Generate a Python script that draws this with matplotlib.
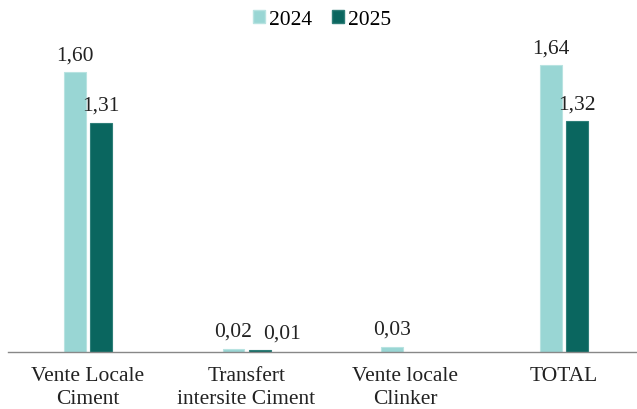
import matplotlib
matplotlib.use("Agg")
import matplotlib.pyplot as plt
import numpy as np
from matplotlib.patches import Patch

categories = ["Vente Locale\nCiment", "Transfert\nintersite Ciment", "Vente locale\nClinker", "TOTAL"]
series_names = ["2024", "2025"]
values_2024 = [1.60, 0.02, 0.03, 1.64]
values_2025 = [1.31, 0.01, None, 1.32]
labels_2024 = ["1,60", "0,02", "0,03", "1,64"]
labels_2025 = ["1,31", "0,01", None, "1,32"]

plt.rcParams['font.family'] = ['Liberation Serif', 'DejaVu Serif']

fig = plt.figure(figsize=(6.37, 4.09), dpi=100)
ax = fig.add_axes([8/637, 57/409, 629/637, 315/409])

c1 = "#99D6D4"
c2 = "#0A665F"
x = np.arange(len(categories))
w = 0.138
off = 0.082
fs = 15.5

for i in range(len(categories)):
    v = values_2024[i]
    if v is not None:
        ax.bar(x[i] - off, v, w, color=c1, edgecolor="#B8E3E1", linewidth=0.8)
        ax.annotate(labels_2024[i], (x[i] - off, v), xytext=(0, 5), textcoords="offset points",
                    ha="center", va="bottom", fontsize=fs, color="#222222")
    v = values_2025[i]
    if v is not None:
        ax.bar(x[i] + off, v, w, color=c2, edgecolor="#2E7E78", linewidth=0.8)
        dx = 16 if v < 0.1 else 0
        ax.annotate(labels_2025[i], (x[i] + off, v), xytext=(dx, 5), textcoords="offset points",
                    ha="center", va="bottom", fontsize=fs, color="#222222")

ax.set_xlim(-0.503, 3.46)
ax.set_ylim(0, 1.8)
ax.set_xticks(x)
ax.set_xticklabels(categories, fontsize=fs, color="#222222", linespacing=1.3)
ax.tick_params(axis='x', length=0, pad=11)
ax.set_yticks([])
for s in ["top", "right", "left"]:
    ax.spines[s].set_visible(False)
ax.spines["bottom"].set_color("#888888")
ax.spines["bottom"].set_linewidth(1.0)

handles = [Patch(facecolor=c1, edgecolor="#B8E3E1"), Patch(facecolor=c2, edgecolor="#2E7E78")]
fig.legend(handles, series_names, loc="center", bbox_to_anchor=(322/637, 1 - 20/409), ncol=2,
           frameon=False, fontsize=fs, handlelength=0.55, handleheight=0.55, handletextpad=0.2,
           columnspacing=0.9, borderpad=0)

fig.savefig("out.png", dpi=100)
